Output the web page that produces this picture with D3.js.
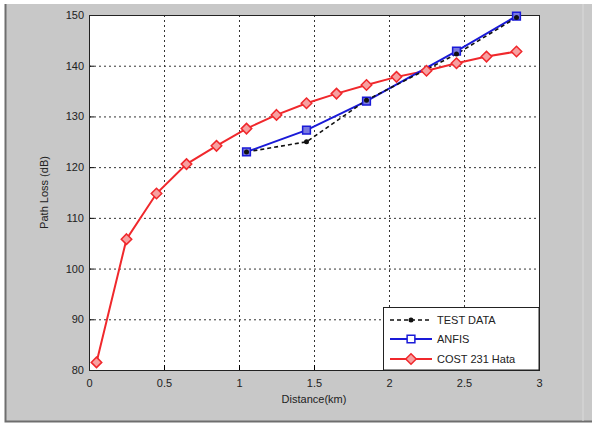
<!DOCTYPE html>
<html>
<head>
<meta charset="utf-8">
<script src="https://cdn.jsdelivr.net/npm/d3@7"></script>
<style>
  body { margin: 0; background: #fff; }
  svg { display: block; font-family: "Liberation Sans", Arial, sans-serif; }
</style>
</head>
<body>
<div class="visHolder"></div>
<script>
// data
const hataDist = [0.05, 0.25, 0.45, 0.65, 0.85, 1.05, 1.25, 1.45, 1.65, 1.85, 2.05, 2.25, 2.45, 2.65, 2.85];
const hataLoss = [81.5, 105.8, 114.8, 120.6, 124.2, 127.6, 130.3, 132.6, 134.5, 136.2, 137.8, 139.0, 140.5, 141.8, 142.8];
const anfisDist = [1.05, 1.45, 1.85, 2.45, 2.85];
const anfisLoss = [123.0, 127.3, 133.0, 142.9, 149.8];
const testDist = [1.05, 1.45, 1.85, 2.45, 2.85];
const testLoss = [123.0, 125.0, 133.2, 142.3, 149.5];
const xTicks = [0, 0.5, 1, 1.5, 2, 2.5, 3];
const yTicks = [80, 90, 100, 110, 120, 130, 140, 150];
const legendNames = ['TEST DATA', 'ANFIS', 'COST 231 Hata'];

const width = 592, height = 429;
const pLeft = 89, pRight = 539, pTop = 15, pBottom = 370;

const svg = d3.select('.visHolder')
    .append('svg')
    .attr('width', width)
    .attr('height', height);

// gray figure panel
svg.append('rect')
    .attr('x', 5).attr('y', 4)
    .attr('width', 587).attr('height', 417)
    .attr('fill', '#c8c8c8');
svg.append('path')
    .attr('d', 'M5.5,4 L5.5,421.5 L592,421.5')
    .attr('fill', 'none')
    .attr('stroke', '#6e6e6e')
    .attr('stroke-width', 2);
svg.append('line')
    .attr('x1', 583).attr('x2', 583).attr('y1', 4).attr('y2', 421)
    .attr('stroke', '#dadada');

svg.append('rect')
    .attr('x', pLeft).attr('y', pTop)
    .attr('width', pRight - pLeft).attr('height', pBottom - pTop)
    .attr('fill', '#fff');

const x = d3.scaleLinear().domain([0, 3]).range([pLeft, pRight]);
const y = d3.scaleLinear().domain([80, 150]).range([pBottom, pTop]);

// dotted grid
const grid = svg.append('g')
    .attr('stroke', '#333')
    .attr('stroke-width', 1)
    .attr('stroke-dasharray', '2,3');
grid.selectAll('.vx')
    .data(xTicks.slice(1, -1))
    .enter().append('line')
    .attr('x1', d => x(d) + 0.5).attr('x2', d => x(d) + 0.5)
    .attr('y1', pTop).attr('y2', pBottom);
grid.selectAll('.hy')
    .data(yTicks.slice(1, -1))
    .enter().append('line')
    .attr('x1', pLeft).attr('x2', pRight)
    .attr('y1', d => y(d) + 0.5).attr('y2', d => y(d) + 0.5);

// axes, ticks inward like matlab
const xAxis = d3.axisBottom(x).tickValues(xTicks).tickSize(-5).tickPadding(9)
    .tickFormat(d => d);
const yAxis = d3.axisLeft(y).tickValues(yTicks).tickSize(-5).tickPadding(5);

svg.append('g')
    .attr('transform', `translate(0,${pBottom})`)
    .call(xAxis)
    .call(g => g.select('.domain').remove())
    .selectAll('text').attr('font-size', 11).attr('fill', '#222')
    .attr('font-family', '"Liberation Sans", Arial, sans-serif');
svg.append('g')
    .attr('transform', `translate(${pLeft},0)`)
    .call(yAxis)
    .call(g => g.select('.domain').remove())
    .selectAll('text').attr('font-size', 11).attr('fill', '#222')
    .attr('font-family', '"Liberation Sans", Arial, sans-serif');

svg.append('rect')
    .attr('x', pLeft + 0.5).attr('y', pTop + 0.5)
    .attr('width', pRight - pLeft).attr('height', pBottom - pTop)
    .attr('fill', 'none')
    .attr('stroke', '#222');

// lines
const line = d3.line().x(d => x(d[0])).y(d => y(d[1]));
const hata = d3.zip(hataDist, hataLoss);
const anfis = d3.zip(anfisDist, anfisLoss);
const test = d3.zip(testDist, testLoss);

svg.append('path').datum(hata)
    .attr('d', line).attr('fill', 'none')
    .attr('stroke', '#f0282c').attr('stroke-width', 2);
svg.append('path').datum(anfis)
    .attr('d', line).attr('fill', 'none')
    .attr('stroke', '#1a1ad8').attr('stroke-width', 2);
svg.append('path').datum(test)
    .attr('d', line).attr('fill', 'none')
    .attr('stroke', '#111').attr('stroke-width', 1.6)
    .attr('stroke-dasharray', '4,3');

const diamond = d3.symbol().type(d3.symbolDiamond2).size(70);
const square = d3.symbol().type(d3.symbolSquare).size(60);

svg.selectAll('.hata')
    .data(hata).enter().append('path')
    .attr('d', diamond)
    .attr('transform', d => `translate(${x(d[0])},${y(d[1])})`)
    .attr('fill', '#f7a0a0').attr('stroke', '#f0282c').attr('stroke-width', 1.5);
svg.selectAll('.anfis')
    .data(anfis).enter().append('path')
    .attr('d', square)
    .attr('transform', d => `translate(${x(d[0])},${y(d[1])})`)
    .attr('fill', '#7a7ae0').attr('stroke', '#1a1ad8').attr('stroke-width', 1.5);
svg.selectAll('.test')
    .data(test).enter().append('circle')
    .attr('cx', d => x(d[0])).attr('cy', d => y(d[1]))
    .attr('r', 2.5).attr('fill', '#111');

// legend
const lg = svg.append('g');
lg.append('rect')
    .attr('x', 383.5).attr('y', 307.5)
    .attr('width', pRight - 383.5).attr('height', pBottom - 307.5)
    .attr('fill', '#fff').attr('stroke', '#222');
const legY = [320, 339, 359];
const legStroke = ['#111', '#1a1ad8', '#f0282c'];
legendNames.forEach((name, i) => {
    lg.append('line')
        .attr('x1', 390).attr('x2', 432)
        .attr('y1', legY[i]).attr('y2', legY[i])
        .attr('stroke', legStroke[i])
        .attr('stroke-width', i === 0 ? 1.6 : 2)
        .attr('stroke-dasharray', i === 0 ? '4,3' : null);
    if (i === 0) {
        lg.append('circle').attr('cx', 411).attr('cy', legY[i]).attr('r', 2.5).attr('fill', '#111');
    } else {
        lg.append('path')
            .attr('d', i === 1 ? square : diamond)
            .attr('transform', `translate(411,${legY[i]})`)
            .attr('fill', i === 1 ? '#fff' : '#f7a0a0')
            .attr('stroke', legStroke[i]).attr('stroke-width', 1.5);
    }
    lg.append('text')
        .attr('x', 437).attr('y', legY[i] + 4)
        .attr('font-size', 11).attr('fill', '#222')
        .text(name);
});

// axis titles
svg.append('text')
    .attr('x', (pLeft + pRight) / 2).attr('y', 403)
    .attr('text-anchor', 'middle')
    .attr('font-size', 11).attr('fill', '#222')
    .text('Distance(km)');
svg.append('text')
    .attr('transform', `translate(48,${(pTop + pBottom) / 2}) rotate(-90)`)
    .attr('text-anchor', 'middle')
    .attr('font-size', 11).attr('fill', '#222')
    .text('Path Loss (dB)');
</script>
</body>
</html>
